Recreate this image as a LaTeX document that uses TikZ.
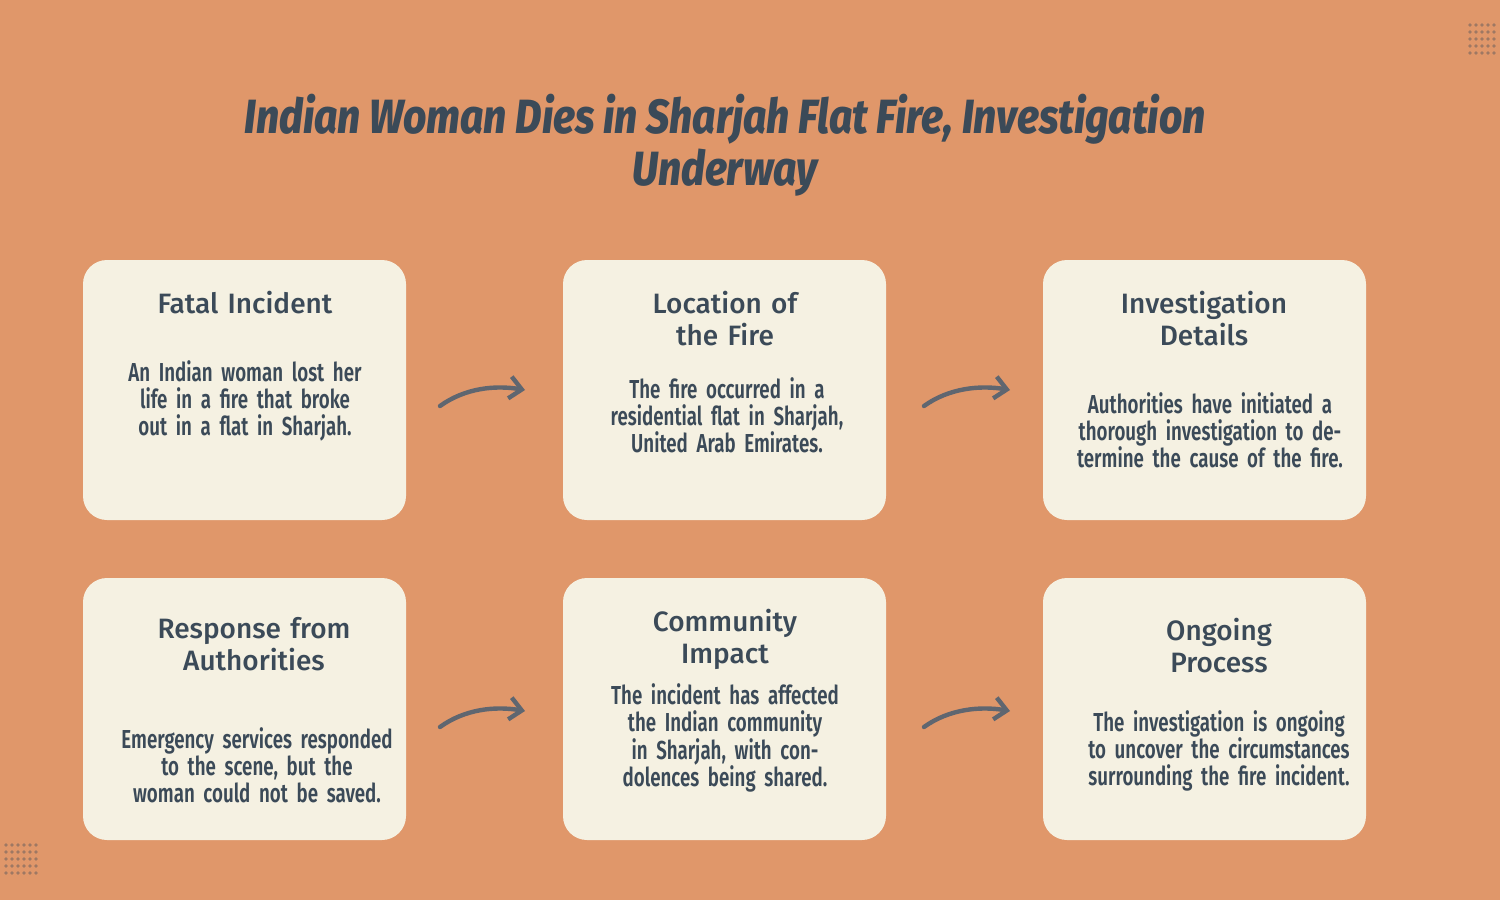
\documentclass[tikz,border=0pt]{standalone}
\usetikzlibrary{arrows.meta,calc}
\usepackage{fontspec}
\setmainfont{Fira Sans}
\newfontfamily\bodyf[FakeStretch=0.72]{Fira Sans SemiBold}
\newfontfamily\headf{Fira Sans Medium}
\newfontfamily\titlef[FakeStretch=0.85]{Fira Sans ExtraBold Italic}
\definecolor{bg}{HTML}{E0976A}
\definecolor{card}{HTML}{F5F1E2}
\definecolor{ink}{HTML}{3B4A58}
\definecolor{arr}{HTML}{5F6670}
\begin{document}
\begin{tikzpicture}[x=0.5pt,y=-0.5pt,
  card/.style={fill=card,rounded corners=12pt},
  head/.style={text=ink,align=center,font=\headf\fontsize{14}{16}\selectfont,text width=140pt},
  body/.style={text=ink,align=center,font=\bodyf\fontsize{13}{13.6}\selectfont,text width=140pt},
  flow/.style={draw=arr,line width=2.2pt,line cap=round,-{Straight Barb[length=6pt,width=11pt]}}]
\fill[bg] (0,0) rectangle (1500,900);
\useasboundingbox (0,0) rectangle (1500,900);
\foreach \i in {0,...,4}{\foreach \j in {0,...,4}{\fill[ink!40!bg] (1470+\i*6,25+\j*7) circle (0.9pt);}}
\foreach \i in {0,...,5}{\foreach \j in {0,...,4}{\fill[ink!40!bg] (6+\i*6,845+\j*7) circle (0.9pt);}}
\node (title) at (725,145) [text=ink,align=center,font=\titlef\fontsize{24}{26}\selectfont] {Indian Woman Dies in Sharjah Flat Fire, Investigation\\Underway};
\fill[card] (83,260) rectangle (406,520);
\fill[card] (563,260) rectangle (886,520);
\fill[card] (1043,260) rectangle (1366,520);
\fill[card] (83,578) rectangle (406,840);
\fill[card] (563,578) rectangle (886,840);
\fill[card] (1043,578) rectangle (1366,840);
\node[head] (h1) at (245,303) {Fatal Incident};
\node[body] (b1) at (245,401) {An Indian woman lost her life in a fire that broke out in a flat in Sharjah.};
\node[head] (h2) at (725,319) {Location of\\the Fire};
\node[body] (b2) at (727,415) {The fire occurred in a residential flat in Sharjah, United Arab Emirates.};
\node[head] (h3) at (1204,319) {Investigation\\Details};
\node[body] (b3) at (1210,430) {Authorities have initiated a thorough investigation to determine the cause of the fire.};
\node[head] (h4) at (254,644) {Response from\\Authorities};
\node[body] (b4) at (257,765) {Emergency services responded to the scene, but the woman could not be saved.};
\node[head] (h5) at (725,639) {Community\\Impact};
\node[body] (b5) at (725,738) {The incident has affected the Indian community in Sharjah, with condolences being shared.};
\node[head] (h6) at (1219,646) {Ongoing\\Process};
\node[body] (b6) at (1219,751) {The investigation is ongoing to uncover the circumstances surrounding the fire incident.};
\coordinate (a1s) at (440,406); \coordinate (a1e) at (525,390);
\coordinate (a2s) at (924,406); \coordinate (a2e) at (1010,390);
\coordinate (a3s) at (440,727); \coordinate (a3e) at (525,711);
\coordinate (a4s) at (924,727); \coordinate (a4e) at (1010,711);
\foreach \s/\e in {a1s/a1e,a2s/a2e,a3s/a3e,a4s/a4e}
  \draw[flow] (\s) .. controls ($(\s)+(25,-18)$) and ($(\e)+(-30,-5)$) .. (\e);
\end{tikzpicture}
\end{document}
